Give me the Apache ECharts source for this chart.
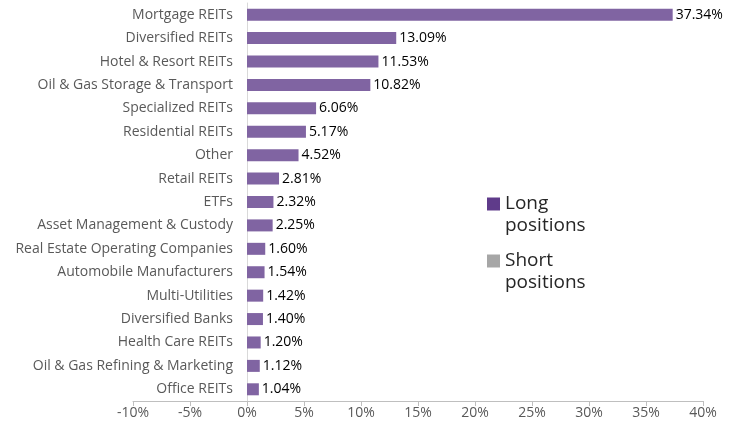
<!DOCTYPE html>
<html>
<head>
<meta charset="utf-8">
<script src="https://cdn.jsdelivr.net/npm/echarts@6/dist/echarts.min.js"></script>
<style>
    html, body { margin: 0; padding: 0; background: #fff; }
    #main { width: 732px; height: 433px; }
</style>
</head>
<body>
<div id="main"></div>
<script>
// categories top to bottom
var categories = ['Mortgage REITs', 'Diversified REITs', 'Hotel & Resort REITs', 'Oil & Gas Storage & Transport',
    'Specialized REITs', 'Residential REITs', 'Other', 'Retail REITs', 'ETFs', 'Asset Management & Custody',
    'Real Estate Operating Companies', 'Automobile Manufacturers', 'Multi-Utilities', 'Diversified Banks',
    'Health Care REITs', 'Oil & Gas Refining & Marketing', 'Office REITs'];
var longValues = [37.34, 13.09, 11.53, 10.82, 6.06, 5.17, 4.52, 2.81, 2.32, 2.25, 1.60, 1.54, 1.42, 1.40, 1.20, 1.12, 1.04];
var shortValues = [];
var xTicks = [-10, 40, 5]; // min, max, step

var myChart = echarts.init(document.getElementById('main'));
var font = 'Open Sans';
var option = {
    animation: false,
    grid: { left: 133, right: 29, top: 3, bottom: 32, containLabel: false, outerBoundsMode: 'none' },
    legend: {
        orient: 'vertical',
        left: 482,
        top: 166,
        itemWidth: 13,
        itemHeight: 13,
        itemGap: -9,
        icon: 'rect',
        selectedMode: false,
        // blank first line so the square sits next to the first word
        formatter: function (name) { return '\u00a0\n' + name.replace(' ', '\n'); },
        textStyle: { fontFamily: font, fontSize: 19, color: '#262626', lineHeight: 22 },
        data: [
            { name: 'Long positions', itemStyle: { color: '#5f3b8a' } },
            { name: 'Short positions', itemStyle: { color: '#a6a6a6' } }
        ]
    },
    xAxis: {
        type: 'value',
        min: xTicks[0],
        max: xTicks[1],
        interval: xTicks[2],
        splitLine: { show: false },
        axisLine: { show: true, lineStyle: { color: '#bfbfbf' } },
        axisTick: { show: true, length: 5, lineStyle: { color: '#bfbfbf' } },
        axisLabel: { formatter: '{value}%', fontFamily: font, fontSize: 14, color: '#595959', margin: 5 }
    },
    yAxis: {
        type: 'category',
        inverse: true,
        data: categories,
        axisLine: { show: true, onZero: true, lineStyle: { color: '#d9d9d9' } },
        axisTick: { show: false },
        // labels sit just left of the 0% line, not at the grid edge
        axisLabel: { fontFamily: font, fontSize: 14, color: '#595959', margin: -100 }
    },
    series: [
        {
            name: 'Long positions',
            type: 'bar',
            data: longValues,
            barWidth: 12,
            barGap: '-100%',
            itemStyle: { color: '#8064a2' },
            label: {
                show: true,
                position: 'right',
                distance: 3,
                fontFamily: font,
                fontSize: 14,
                color: '#000',
                formatter: function (p) { return p.value.toFixed(2) + '%'; }
            }
        },
        {
            name: 'Short positions',
            type: 'bar',
            data: shortValues,
            barWidth: 12,
            barGap: '-100%',
            itemStyle: { color: '#a6a6a6' }
        }
    ]
};
myChart.setOption(option);
</script>
</body>
</html>
